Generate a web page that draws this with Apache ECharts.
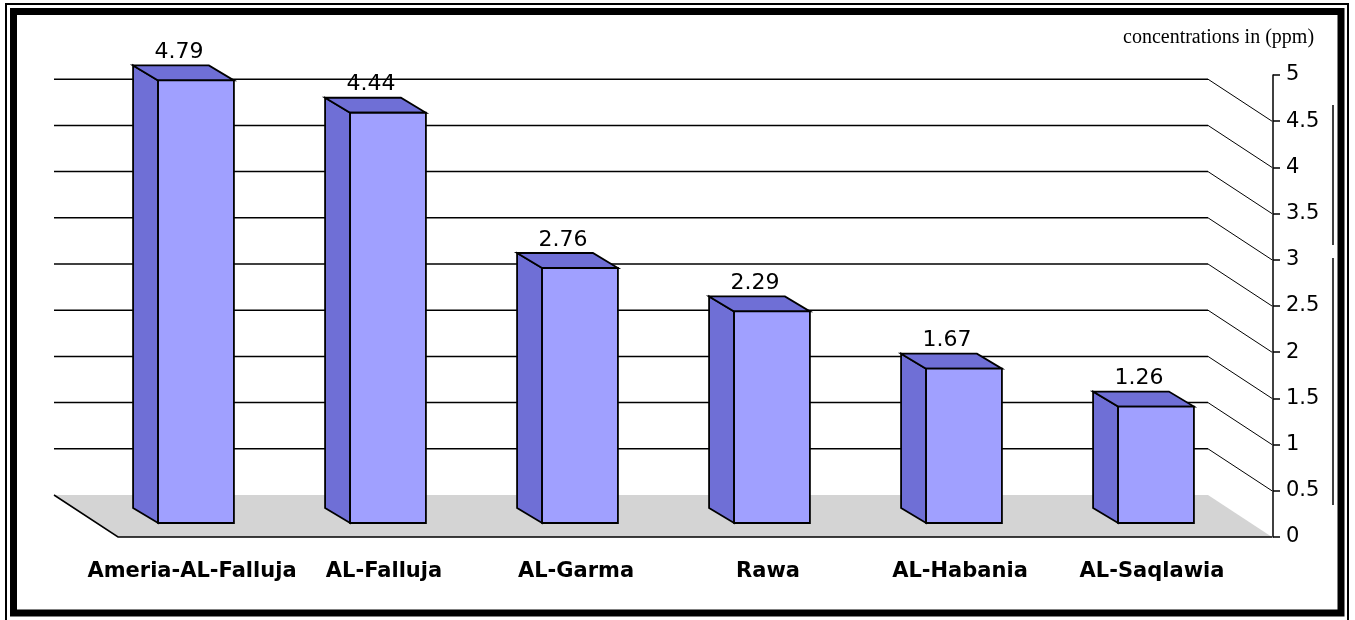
<!DOCTYPE html>
<html>
<head>
<meta charset="utf-8">
<script src="https://cdn.jsdelivr.net/npm/echarts@6/dist/echarts.min.js"></script>
<style>
	html, body { margin: 0; padding: 0; background: #fff; }
	#chart { width: 1355px; height: 620px; }
</style>
</head>
<body>
<div id="chart"></div>
<script>
// 数据
var categories = ['Ameria-AL-Falluja', 'AL-Falluja', 'AL-Garma', 'Rawa', 'AL-Habania', 'AL-Saqlawia'];
var values = [4.79, 4.44, 2.76, 2.29, 1.67, 1.26];
var wallTicks = [0.5, 1, 1.5, 2, 2.5, 3, 3.5, 4, 4.5];   // 后墙网格线

var chart = echarts.init(document.getElementById('chart'));

// 3D 深度偏移
var depthX = -64, depthY = -42;

// 地板
function renderFloor(params, api) {
	var cs = params.coordSys;
	var y0 = api.coord([0, 0])[1];
	var fl = cs.x + 18, fr = cs.x + cs.width + 20;
	return {
		type: 'group',
		children: [{
			type: 'polygon',
			shape: { points: [[fl, y0], [fl + depthX, y0 + depthY], [fr + depthX, y0 + depthY], [fr, y0]] },
			style: { fill: '#d4d4d4' }
		}, {
			type: 'polyline',
			shape: { points: [[fl + depthX, y0 + depthY], [fl, y0], [fr, y0]] },
			style: { stroke: '#000', lineWidth: 1.5, fill: null }
		}]
	};
}

// 后墙网格线
function renderWall(params, api) {
	var cs = params.coordSys;
	var y = api.coord([0, api.value(1)])[1];
	var fl = cs.x + 18, fr = cs.x + cs.width + 20;
	return {
		type: 'group',
		children: [{
			type: 'line',
			shape: { x1: fl + depthX, y1: y + depthY, x2: fr + depthX, y2: y + depthY },
			style: { stroke: '#000', lineWidth: 1.5 }
		}, {
			type: 'line',
			shape: { x1: fr + depthX, y1: y + depthY, x2: fr, y2: y },
			style: { stroke: '#000', lineWidth: 1 }
		}]
	};
}

// 立体柱子
function renderBar(params, api) {
	var i = api.value(0), v = api.value(1);
	var top = api.coord([i, v]);
	var base = api.coord([i, 0]);
	var w = api.size([1, 0])[0] * 0.395;
	var lift = 14, dx = -25, dy = -15;
	var x1 = top[0] - w / 2, x2 = top[0] + w / 2;
	var yt = top[1] - lift, yb = base[1] - lift;
	var line = { stroke: '#000', lineWidth: 1.8 };
	return {
		type: 'group',
		children: [{
			type: 'polygon',
			shape: { points: [[x1, yt], [x1 + dx, yt + dy], [x1 + dx, yb + dy], [x1, yb]] },
			style: Object.assign({ fill: '#6f6fd6' }, line)
		}, {
			type: 'polygon',
			shape: { points: [[x1, yt], [x1 + dx, yt + dy], [x2 + dx, yt + dy], [x2, yt]] },
			style: Object.assign({ fill: '#6f6fd6' }, line)
		}, {
			type: 'rect',
			shape: { x: x1, y: yt, width: w, height: yb - yt },
			style: Object.assign({ fill: '#a0a0ff' }, line)
		}, {
			type: 'text',
			x: top[0] - 17,
			y: yt - 17,
			style: {
				text: String(v),
				fill: '#000',
				font: '22px "DejaVu Sans"',
				textAlign: 'center',
				textVerticalAlign: 'bottom'
			}
		}]
	};
}

var option = {
	animation: false,
	backgroundColor: '#fff',
	grid: { left: 100, right: 103, top: 75, bottom: 83 },
	xAxis: {
		type: 'category',
		data: categories,
		axisLine: { show: false },
		axisTick: { show: false },
		axisLabel: {
			interval: 0,
			margin: 24,
			padding: [0, 8, 0, 0],
			color: '#000',
			fontFamily: 'DejaVu Sans',
			fontWeight: 'bold',
			fontSize: 21
		}
	},
	yAxis: {
		type: 'value',
		position: 'right',
		offset: 21,
		min: 0,
		max: 5,
		interval: 0.5,
		splitLine: { show: false },
		axisLine: { show: true, lineStyle: { color: '#000', width: 1.5 } },
		axisTick: { show: true, length: 7, lineStyle: { color: '#000', width: 1.5 } },
		axisLabel: {
			margin: 13,
			color: '#000',
			fontFamily: 'DejaVu Sans',
			fontSize: 21
		}
	},
	graphic: [
		{ type: 'rect', shape: { x: 6, y: 4, width: 1342, height: 620 }, style: { fill: null, stroke: '#000', lineWidth: 2 } },
		{ type: 'rect', shape: { x: 13.5, y: 11.5, width: 1327.5, height: 601.5 }, style: { fill: null, stroke: '#000', lineWidth: 7 } },
		{ type: 'line', shape: { x1: 1333, y1: 105, x2: 1333, y2: 245 }, style: { stroke: '#000', lineWidth: 1.5 } },
		{ type: 'line', shape: { x1: 1333, y1: 258, x2: 1333, y2: 505 }, style: { stroke: '#000', lineWidth: 1.5 } },
		{
			type: 'text', left: 1123, top: 28,
			style: { text: 'concentrations in (ppm)', fill: '#000', font: '20px "Liberation Serif"' }
		}
	],
	series: [{
		type: 'custom',
		renderItem: renderFloor,
		data: [[0, 0]],
		z: 1,
		silent: true
	}, {
		type: 'custom',
		renderItem: renderWall,
		data: wallTicks.map(function (t) { return [0, t]; }),
		z: 2,
		silent: true
	}, {
		type: 'custom',
		renderItem: renderBar,
		data: values.map(function (v, i) { return [i, v]; }),
		z: 3
	}]
};

chart.setOption(option);
</script>
</body>
</html>
